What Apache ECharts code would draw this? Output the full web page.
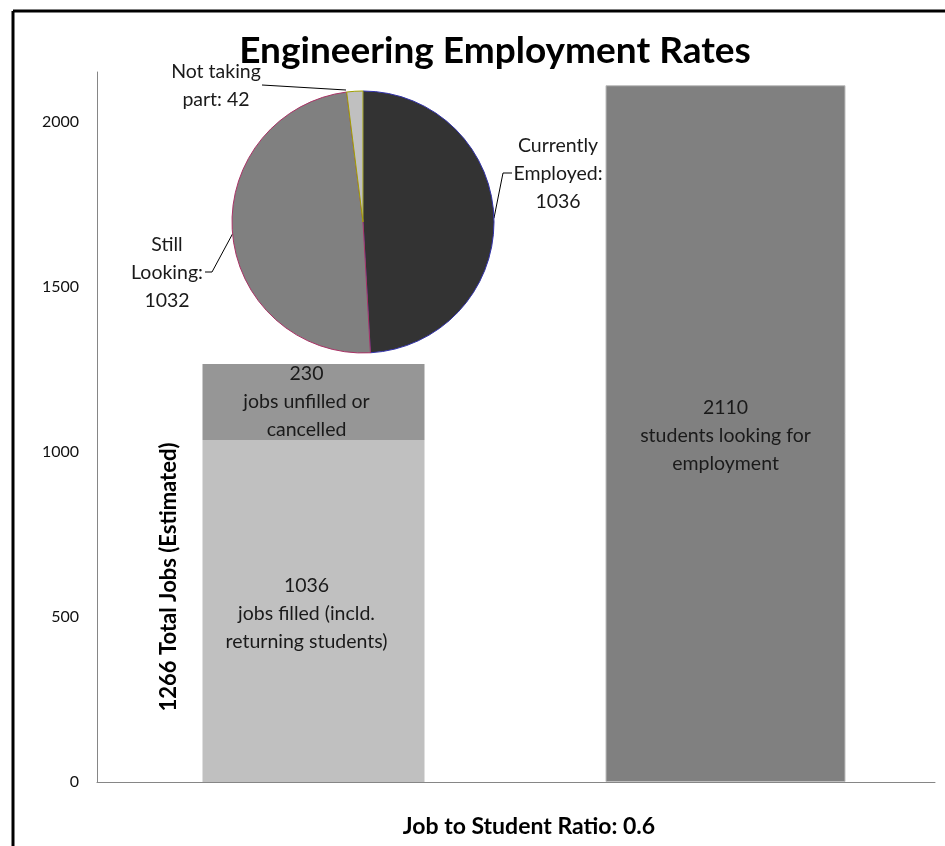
<!DOCTYPE html>
<html>
<head>
<meta charset="utf-8">
<script src="https://cdn.jsdelivr.net/npm/echarts@6/dist/echarts.min.js"></script>
<style>
html,body{margin:0;padding:0;background:#fff;}
#chart{width:945px;height:846px;}
</style>
</head>
<body>
<div id="chart"></div>
<script>
// ---- data ----
const barCategories = ['Jobs', 'Students'];
const jobsFilled = [1036, '-'];
const jobsUnfilled = [230, '-'];
const studentsLooking = ['-', 2110];
const filledText = 'jobs filled (incld.\nreturning students)';
const unfilledText = 'jobs unfilled or\ncancelled';
const studentsText = 'students looking for\nemployment';

const pieNames = ['Currently Employed', 'Still Looking', 'Not taking part'];
const pieValues = [1036, 1032, 42];
const pieLabelFormats = ['Currently\nEmployed:\n{c}', 'Still\nLooking:\n{c}', 'Not taking\npart: {c}'];

const yTicks = [0, 500, 1000, 1500, 2000];
const titleText = 'Engineering Employment Rates';

const totalJobs = jobsFilled[0] + jobsUnfilled[0];
const ratio = (totalJobs / studentsLooking[1]).toFixed(1);

const FONT = 'Lato';
const chart = echarts.init(document.getElementById('chart'));

const cx = 363, cy = 222, r = 131;
const LBL = {fontFamily: FONT, fontSize: 19.5, lineHeight: 28, color: '#1a1a1a'};

const option = {
  animation: false,
  backgroundColor: '#fff',
  title: [{
    text: titleText,
    left: 490, top: 28, textAlign: 'center',
    textStyle: {fontFamily: FONT, fontWeight: 'bold', fontSize: 37, color: '#000'}
  }, {
    text: 'Job to Student Ratio: ' + ratio,
    left: 524, top: 810, textAlign: 'center',
    textStyle: {fontFamily: FONT, fontWeight: 'bold', fontSize: 23, color: '#000'}
  }],
  grid: [
    {left: 97, right: 10, top: 72, bottom: 64},
    {left: 111, right: 24, top: 72, bottom: 64}
  ],
  xAxis: [{
    type: 'category', data: barCategories, gridIndex: 0,
    axisLine: {show: true, lineStyle: {color: '#868686', width: 1}},
    axisTick: {show: false}, axisLabel: {show: false}, splitLine: {show: false}
  }, {
    type: 'category', data: barCategories, gridIndex: 1, show: false
  }],
  yAxis: [{
    type: 'value', min: 0, max: 2150, interval: 500, gridIndex: 0,
    axisLine: {show: true, lineStyle: {color: '#868686', width: 1}},
    axisTick: {show: false}, splitLine: {show: false},
    axisLabel: {
      margin: 18, fontFamily: FONT, fontSize: 16, color: '#111',
      showMaxLabel: false,
      formatter: v => yTicks.indexOf(v) >= 0 ? String(v) : ''
    }
  }, {
    type: 'value', min: 0, max: 2150, interval: 500, gridIndex: 1, show: false
  }],
  series: [{
    type: 'bar', name: 'filled', xAxisIndex: 1, yAxisIndex: 1, stack: 'jobs', barWidth: 222,
    data: jobsFilled,
    itemStyle: {color: '#c0c0c0'},
    label: Object.assign({show: true, position: 'inside', offset: [-7, 3],
      formatter: p => p.value + '\n' + filledText}, LBL)
  }, {
    type: 'bar', name: 'unfilled', xAxisIndex: 1, yAxisIndex: 1, stack: 'jobs', barWidth: 222,
    data: jobsUnfilled,
    itemStyle: {color: '#969696'},
    label: Object.assign({show: true, position: 'inside', offset: [-7, 0],
      formatter: p => p.value + '\n' + unfilledText}, LBL)
  }, {
    type: 'bar', name: 'students', xAxisIndex: 0, yAxisIndex: 0, barWidth: 240,
    data: studentsLooking,
    itemStyle: {color: '#808080', borderColor: '#bdbdbd', borderWidth: 1},
    label: Object.assign({show: true, position: 'inside', offset: [0, 2],
      formatter: p => p.value + '\n' + studentsText}, LBL)
  }, {
    type: 'pie', center: [cx, cy], radius: r, startAngle: 90, clockwise: true,
    z: 5,
    data: pieNames.map((n, i) => ({name: n, value: pieValues[i]})),
    itemStyle: {borderWidth: 1},
    color: ['#333333', '#808080', '#c0c0c0'],
    emphasis: {disabled: true},
    label: Object.assign({
      show: true, position: 'outside',
      formatter: p => pieLabelFormats[p.dataIndex].replace('{c}', p.value)
    }, LBL),
    labelLine: {show: true, length: 8, length2: 6, lineStyle: {color: '#000', width: 1}},
    labelLayout: function (params) {
      const e = params.labelLinePoints ? params.labelLinePoints[0] : [cx, cy];
      const i = params.dataIndex;
      if (i === 0) {
        return {x: cx + 195, y: cy - 48, align: 'center', verticalAlign: 'middle',
          labelLinePoints: [e, [cx + r + 9, cy - 49], [cx + r + 18, cy - 49]]};
      } else if (i === 1) {
        return {x: cx - 196, y: cy + 51, align: 'center', verticalAlign: 'middle',
          labelLinePoints: [e, [cx - 151, cy + 50], [cx - 158, cy + 50]]};
      } else {
        return {x: cx - 147, y: cy - 136, align: 'center', verticalAlign: 'middle',
          labelLinePoints: [[cx - 17, cy - r - 1], [cx - 101, cy - 137], [cx - 101, cy - 137]]};
      }
    }
  }],
  graphic: [{
    type: 'text', x: 169, y: 577, rotation: Math.PI / 2, z: 10,
    style: {text: totalJobs + ' Total Jobs (Estimated)', fontFamily: FONT, fontWeight: 'bold', fontSize: 22,
      fill: '#000', align: 'center', verticalAlign: 'middle'}
  }, {
    type: 'line', z: 10, shape: {x1: 13, y1: 11, x2: 945, y2: 11}, style: {stroke: '#000', lineWidth: 3}
  }, {
    type: 'line', z: 10, shape: {x1: 13, y1: 11, x2: 13, y2: 846}, style: {stroke: '#000', lineWidth: 3}
  }]
};
// slice border colours
option.series[3].data[0].itemStyle = {borderColor: '#3333aa'};
option.series[3].data[1].itemStyle = {borderColor: '#aa3366'};
option.series[3].data[2].itemStyle = {borderColor: '#a0a000'};
chart.setOption(option);
</script>
</body>
</html>
